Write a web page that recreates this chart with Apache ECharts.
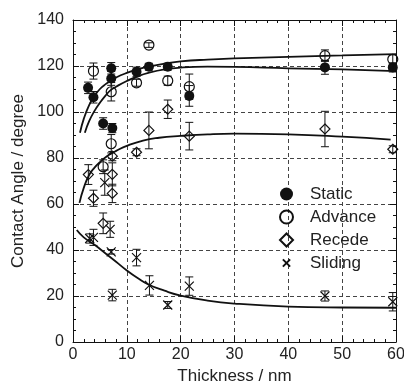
<!DOCTYPE html>
<html>
<head>
<meta charset="utf-8">
<script src="https://cdn.jsdelivr.net/npm/echarts@6/dist/echarts.min.js"></script>
<style>
  html, body { margin: 0; padding: 0; background: #fff; }
  #chart { width: 404px; height: 384px; }
</style>
</head>
<body>
<div id="chart"></div>
<script>
// measured points: [thickness, angle, error]
const staticPts = [
  [2.8, 110.5, 2.5], [3.8, 106.4, 2.5], [5.6, 95, 2.5], [7.1, 119, 2.5],
  [7.1, 114.6, 3], [7.3, 93, 2], [11.8, 117.5, 2], [14.1, 119.7, 1.5],
  [17.6, 119.7, 1.5], [21.6, 107, 4.5], [46.8, 119.4, 3], [59.4, 119.4, 2]
];
const advancePts = [
  [3.8, 117.8, 3.5], [7.1, 108.8, 4], [7.1, 86.2, 4], [5.6, 76.2, 3],
  [11.8, 112.7, 1.5], [14.1, 129.1, 1], [17.6, 113.6, 2], [21.6, 111, 5.5],
  [46.8, 124.5, 2.5], [59.4, 122.9, 2]
];
const recedePts = [
  [2.85, 72.8, 4.3], [3.8, 62.5, 3.5], [5.6, 51.6, 4.5], [7.3, 80.8, 2],
  [7.3, 72.9, 5], [7.3, 64.6, 4], [11.8, 82.5, 1.5], [14.1, 92, 8],
  [17.6, 101.2, 4], [21.6, 89.5, 6], [46.8, 92.6, 7.7], [59.4, 83.8, 1.5]
];
const slidingPts = [
  [3.1, 45, 2], [3.8, 45.5, 3.5], [5.9, 69.3, 5.5], [6.9, 49, 3.5],
  [7.1, 39.2, 1], [7.3, 20.4, 2.5], [11.8, 36.7, 3.6], [14.2, 24.6, 4.2],
  [17.6, 16.1, 1.5], [21.6, 24.3, 4], [46.8, 20, 2.2], [59.4, 17.5, 4]
];

// fitted curves
const advanceFitX = [1.3, 2, 3, 4, 5, 6, 7, 8, 10, 12, 14, 17, 20, 25, 30, 40, 50, 60];
const advanceFitY = [91, 97, 103, 107, 110, 112, 113.5, 115, 117, 118.5, 119.7, 121, 122, 122.8, 123.3, 124, 124.6, 125.2];
const staticFitX = [2.2, 3, 4, 5, 6, 7, 8, 10, 12, 14, 17, 20, 25, 30, 40, 50, 60];
const staticFitY = [91, 96, 100.5, 104, 107, 109.5, 111, 113.5, 115.5, 117, 118.5, 119.3, 119.7, 119.6, 119, 118.5, 117.8];
const recedeFitX = [1.2, 2, 3, 4, 5, 6, 7, 8, 10, 13, 16, 20, 25, 30, 40, 50, 59];
const recedeFitY = [60.5, 67, 72.6, 75.8, 78.2, 80.2, 81.8, 83.1, 85.3, 87.6, 88.8, 89.6, 90.3, 90.6, 90.3, 89.3, 88];
const slidingFitX = [0.7, 2, 4, 6, 8, 10, 12, 14, 17, 20, 25, 30, 40, 50, 60];
const slidingFitY = [48.7, 45.5, 42.3, 38.6, 34.9, 31.1, 27.8, 25, 22.3, 20.2, 18, 16.7, 15.4, 15, 14.9];

const legendNames = ["Static", "Advance", "Recede", "Sliding"];
const xTicks = [0, 60, 10];
const yTicks = [0, 140, 20];

const ink = "#111";
const font = "Liberation Sans";
const crossPath = "path://M0,0L10,10M10,0L0,10";
// same cross with empty margin so the legend icon stays small
const crossIcon = "path://M-4,-4L-4,-4M0,0L10,10M10,0L0,10M14,14L14,14";
const zip = (xs, ys) => xs.map((x, i) => [x, ys[i]]);

const chart = echarts.init(document.getElementById("chart"));

const errBars = (data) => ({
  type: "custom",
  z: 4,
  silent: true,
  data: data,
  encode: { x: 0, y: 1 },
  renderItem: (params, api) => {
    const x = api.value(0), y = api.value(1), e = api.value(2);
    const t = api.coord([x, y + e]);
    const b = api.coord([x, y - e]);
    const hw = 4;
    const st = { stroke: ink, lineWidth: 1 };
    return {
      type: "group",
      children: [
        { type: "line", shape: { x1: t[0], y1: t[1], x2: b[0], y2: b[1] }, style: st },
        { type: "line", shape: { x1: t[0] - hw, y1: t[1], x2: t[0] + hw, y2: t[1] }, style: st },
        { type: "line", shape: { x1: b[0] - hw, y1: b[1], x2: b[0] + hw, y2: b[1] }, style: st },
      ],
    };
  },
});

const fitLine = (xs, ys) => ({
  type: "line",
  data: zip(xs, ys),
  smooth: true,
  showSymbol: false,
  silent: true,
  z: 2,
  lineStyle: { color: ink, width: 1.8 },
});

const axisCommon = {
  type: "value",
  axisLine: { show: true, onZero: false, lineStyle: { color: ink, width: 1 } },
  axisTick: { show: true, inside: true, length: 6, lineStyle: { color: ink } },
  minorTick: { show: true, length: 3, lineStyle: { color: ink } },
};

chart.setOption({
  animation: false,
  grid: { left: 73, right: 8, top: 20, bottom: 42, outerBoundsMode: "none", containLabel: false },
  legend: {
    data: [
      { name: "Static" },
      { name: "Advance" },
      { name: "Recede" },
      { name: "Sliding", icon: crossIcon },
    ],
    orient: "vertical",
    left: 274,
    top: 180,
    itemWidth: 13,
    itemHeight: 13,
    itemGap: 5,
    textStyle: { fontFamily: font, fontSize: 17, color: "#222", lineHeight: 18, padding: [0, 0, 0, 12] },
  },
  xAxis: [
    {
      ...axisCommon,
      min: xTicks[0], max: xTicks[1], interval: xTicks[2],
      minorTick: { ...axisCommon.minorTick, splitNumber: 5 },
      name: "Thickness / nm",
      nameLocation: "middle",
      nameGap: 23,
      nameTextStyle: { fontFamily: font, fontSize: 17, color: "#222" },
      axisLabel: { fontFamily: font, fontSize: 16, color: "#222", margin: 5 },
      splitLine: { show: true, lineStyle: { color: "#444", type: [4, 3], width: 1 } },
    },
    {
      ...axisCommon,
      position: "top",
      min: xTicks[0], max: xTicks[1], interval: xTicks[2],
      minorTick: { ...axisCommon.minorTick, splitNumber: 5 },
      axisLabel: { show: false },
      splitLine: { show: false },
    },
  ],
  yAxis: [
    {
      ...axisCommon,
      min: yTicks[0], max: yTicks[1], interval: yTicks[2],
      minorTick: { ...axisCommon.minorTick, splitNumber: 4 },
      name: "Contact Angle / degree",
      nameLocation: "middle",
      nameGap: 42,
      nameTextStyle: { fontFamily: font, fontSize: 17, color: "#222" },
      axisLabel: { fontFamily: font, fontSize: 16, color: "#222", margin: 9 },
      splitLine: { show: true, lineStyle: { color: "#444", type: [4, 3], width: 1 } },
    },
    {
      ...axisCommon,
      position: "right",
      min: yTicks[0], max: yTicks[1], interval: yTicks[2],
      minorTick: { ...axisCommon.minorTick, splitNumber: 4 },
      axisLabel: { show: false },
      splitLine: { show: false },
    },
  ],
  series: [
    fitLine(advanceFitX, advanceFitY),
    fitLine(staticFitX, staticFitY),
    fitLine(recedeFitX, recedeFitY),
    fitLine(slidingFitX, slidingFitY),
    errBars(staticPts),
    errBars(advancePts),
    errBars(recedePts),
    errBars(slidingPts),
    {
      name: "Static",
      type: "scatter",
      data: staticPts,
      symbol: "circle",
      symbolSize: 10,
      z: 3,
      itemStyle: { color: ink, opacity: 1 },
    },
    {
      name: "Advance",
      type: "scatter",
      data: advancePts,
      symbol: "circle",
      symbolSize: 10,
      z: 3,
      itemStyle: { color: "transparent", borderColor: ink, borderWidth: 1.2, opacity: 1 },
    },
    {
      name: "Recede",
      type: "scatter",
      data: recedePts,
      symbol: "diamond",
      symbolSize: 10,
      z: 3,
      itemStyle: { color: "transparent", borderColor: ink, borderWidth: 1.2, opacity: 1 },
    },
    {
      name: "Sliding",
      type: "scatter",
      data: slidingPts,
      symbol: crossPath,
      symbolSize: 9,
      z: 3,
      itemStyle: { color: "transparent", borderColor: ink, borderWidth: 1.2, opacity: 1 },
    },
  ],
});
</script>
</body>
</html>
